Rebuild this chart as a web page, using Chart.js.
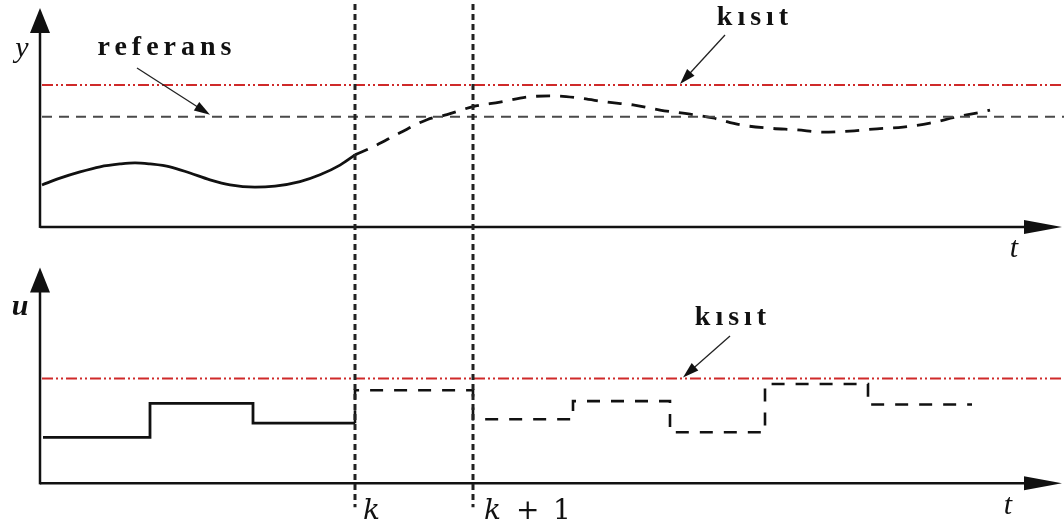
<!DOCTYPE html>
<html>
<head>
<meta charset="utf-8">
<script src="https://cdn.jsdelivr.net/npm/chart.js@4"></script>
<style>
  body { margin: 0; background: #fff; }
  canvas { display: block; }
</style>
</head>
<body>
<canvas id="mpc" width="1064" height="531"></canvas>
<script>
// output y: measured part up to k (solid) and the predicted part (dashed)
const pastT = [0.02, 0.2, 0.4, 0.6, 0.8, 0.95, 1.1, 1.3, 1.5, 1.7, 1.9, 2.15, 2.35, 2.6, 2.8, 3.0, 3.15];
const pastY = [0.37, 0.43, 0.485, 0.53, 0.555, 0.565, 0.555, 0.53, 0.475, 0.415, 0.37, 0.35, 0.36, 0.40, 0.46, 0.545, 0.635];
const predT = [3.15, 3.33, 3.6, 3.87, 4.07, 4.33, 4.6, 4.87, 5.13, 5.4, 5.67, 5.93, 6.2, 6.53, 6.73, 7.0, 7.3, 7.57, 7.83, 8.1, 8.37, 8.63, 8.9, 9.17, 9.43, 9.5];
const predY = [0.635, 0.705, 0.83, 0.945, 0.99, 1.06, 1.10, 1.145, 1.155, 1.135, 1.10, 1.075, 1.03, 0.99, 0.96, 0.90, 0.87, 0.855, 0.835, 0.845, 0.865, 0.88, 0.915, 0.97, 1.015, 1.03];
const yRef = 0.97;
const yLimit = 1.25;

// input u: each level starts at its time and holds until the next one
const uPastT = [0.03, 1.1, 2.13, 3.15];
const uPastV = [0.405, 0.705, 0.53, 0.53];
const uPredT = [3.15, 3.15, 4.33, 5.33, 6.3, 7.25, 8.28, 9.32];
const uPredV = [0.53, 0.82, 0.565, 0.725, 0.45, 0.875, 0.695, 0.695];
const uLimit = 0.925;

const kTimes = [3.15, 4.33];
const tStart = 0.02;
const tEnd = 10.24;

const pts = (xs, ys) => xs.map((t, i) => ({ x: t, y: ys[i] }));
const hline = (v) => [{ x: tStart, y: v }, { x: tEnd, y: v }];

const RED = "#cf2a2a";
const redDash = [11, 3, 2, 3, 2, 3];
const SERIF = "'Liberation Serif', 'DejaVu Serif', serif";
const MATH = "'DejaVu Serif', 'Liberation Serif', serif";

function arrowHead(ctx, x1, y1, x2, y2, len, half) {
  const a = Math.atan2(y2 - y1, x2 - x1);
  const c = Math.cos(a), s = Math.sin(a);
  ctx.beginPath();
  ctx.moveTo(x2, y2);
  ctx.lineTo(x2 - len * c + half * s, y2 - len * s - half * c);
  ctx.lineTo(x2 - len * c - half * s, y2 - len * s + half * c);
  ctx.closePath();
  ctx.fill();
}

function arrow(ctx, x1, y1, x2, y2, width, len, half) {
  const a = Math.atan2(y2 - y1, x2 - x1);
  ctx.lineWidth = width;
  ctx.beginPath();
  ctx.moveTo(x1, y1);
  ctx.lineTo(x2 - (len - 1) * Math.cos(a), y2 - (len - 1) * Math.sin(a));
  ctx.stroke();
  arrowHead(ctx, x1, y1, x2, y2, len, half);
}

const decor = {
  id: "decor",
  afterDatasetsDraw(chart) {
    const { ctx, scales } = chart;
    const x = scales.x, y = scales.y, u = scales.u;
    const x0 = x.getPixelForValue(0);
    const xTip = x.getPixelForValue(10.22);
    ctx.save();
    ctx.fillStyle = "#111";
    ctx.strokeStyle = "#111";
    ctx.setLineDash([]);

    // axes with arrow heads, one pair per panel
    [[y, y.top + 8], [u, u.top + 18]].forEach(([s, tipY]) => {
      const y0 = s.getPixelForValue(0);
      arrow(ctx, x0, y0 + 1, x0, tipY, 2.5, 25, 10);
      arrow(ctx, x0, y0, xTip, y0, 2.5, 38, 7);
    });

    // sampling instants k and k+1
    ctx.lineWidth = 3;
    ctx.strokeStyle = "#222";
    ctx.setLineDash([6, 4]);
    kTimes.forEach((t) => {
      const px = x.getPixelForValue(t);
      ctx.beginPath();
      ctx.moveTo(px, 4);
      ctx.lineTo(px, u.getPixelForValue(0) + 24);
      ctx.stroke();
    });
    ctx.setLineDash([]);

    // annotation arrows
    ctx.strokeStyle = "#222";
    ctx.fillStyle = "#111";
    const refPy = y.getPixelForValue(yRef);
    const yLimPy = y.getPixelForValue(yLimit);
    const uLimPy = u.getPixelForValue(uLimit);
    arrow(ctx, x.getPixelForValue(0.97), 68, x.getPixelForValue(1.7), refPy - 2, 1.3, 16, 5);
    arrow(ctx, x.getPixelForValue(6.85), 35, x.getPixelForValue(6.4), yLimPy - 1, 1.3, 16, 5);
    arrow(ctx, x.getPixelForValue(6.9), 336, x.getPixelForValue(6.43), uLimPy - 1, 1.3, 16, 5);

    // texts
    ctx.fillStyle = "#111";
    ctx.textBaseline = "alphabetic";
    ctx.textAlign = "center";
    ctx.font = "bold 28px " + SERIF;
    ctx.letterSpacing = "5px";
    ctx.fillText("referans", x.getPixelForValue(1.27), 55);
    ctx.letterSpacing = "5px";
    ctx.fillText("kısıt", x.getPixelForValue(7.15), 25);
    ctx.fillText("kısıt", x.getPixelForValue(6.93), 325);
    ctx.letterSpacing = "0px";

    ctx.font = "italic 30px " + SERIF;
    ctx.fillText("y", 22, 57);
    ctx.fillText("t", x.getPixelForValue(9.74), 257);
    ctx.fillText("t", x.getPixelForValue(9.68), 514);
    ctx.font = "italic bold 30px " + SERIF;
    ctx.fillText("u", 20, 315);

    const kY = 519;
    ctx.textAlign = "left";
    ctx.font = "italic 28px " + MATH;
    ctx.fillText("k", x.getPixelForValue(kTimes[0]) + 8, kY);
    ctx.fillText("k", x.getPixelForValue(kTimes[1]) + 11, kY);
    ctx.font = "28px " + MATH;
    ctx.fillText("+", x.getPixelForValue(kTimes[1]) + 43, kY);
    ctx.fillText("1", x.getPixelForValue(kTimes[1]) + 80, kY);
    ctx.restore();
  }
};

const line = (data, axis, color, width, dash, extra) => Object.assign({
  data, yAxisID: axis, borderColor: color, borderWidth: width, borderDash: dash,
  pointRadius: 0, fill: false, showLine: true
}, extra || {});

new Chart(document.getElementById("mpc"), {
  type: "scatter",
  data: {
    datasets: [
      line(hline(yLimit), "y", RED, 2, redDash),
      line(hline(yRef), "y", "#4a4a4a", 2, [10, 7]),
      line(pts(pastT, pastY), "y", "#111", 2.8, [], { tension: 0.4, cubicInterpolationMode: "monotone" }),
      line(pts(predT, predY), "y", "#111", 2.8, [14, 10], { tension: 0.4, cubicInterpolationMode: "monotone" }),
      line(hline(uLimit), "u", RED, 2, redDash),
      line(pts(uPastT, uPastV), "u", "#111", 2.8, [], { stepped: "before" }),
      line(pts(uPredT, uPredV), "u", "#111", 2.6, [13, 11], { stepped: "before" })
    ]
  },
  options: {
    responsive: false,
    animation: false,
    layout: { padding: 0 },
    plugins: { legend: { display: false }, tooltip: { enabled: false } },
    scales: {
      x: { type: "linear", min: -0.4, max: 10.24, display: false },
      u: { type: "linear", position: "left", stack: "panels", stackWeight: 2.48, min: -0.42, max: 2.06, display: false },
      y: { type: "linear", position: "left", stack: "panels", stackWeight: 2.2, min: -0.2, max: 2.0, display: false }
    }
  },
  plugins: [decor]
});
</script>
</body>
</html>
